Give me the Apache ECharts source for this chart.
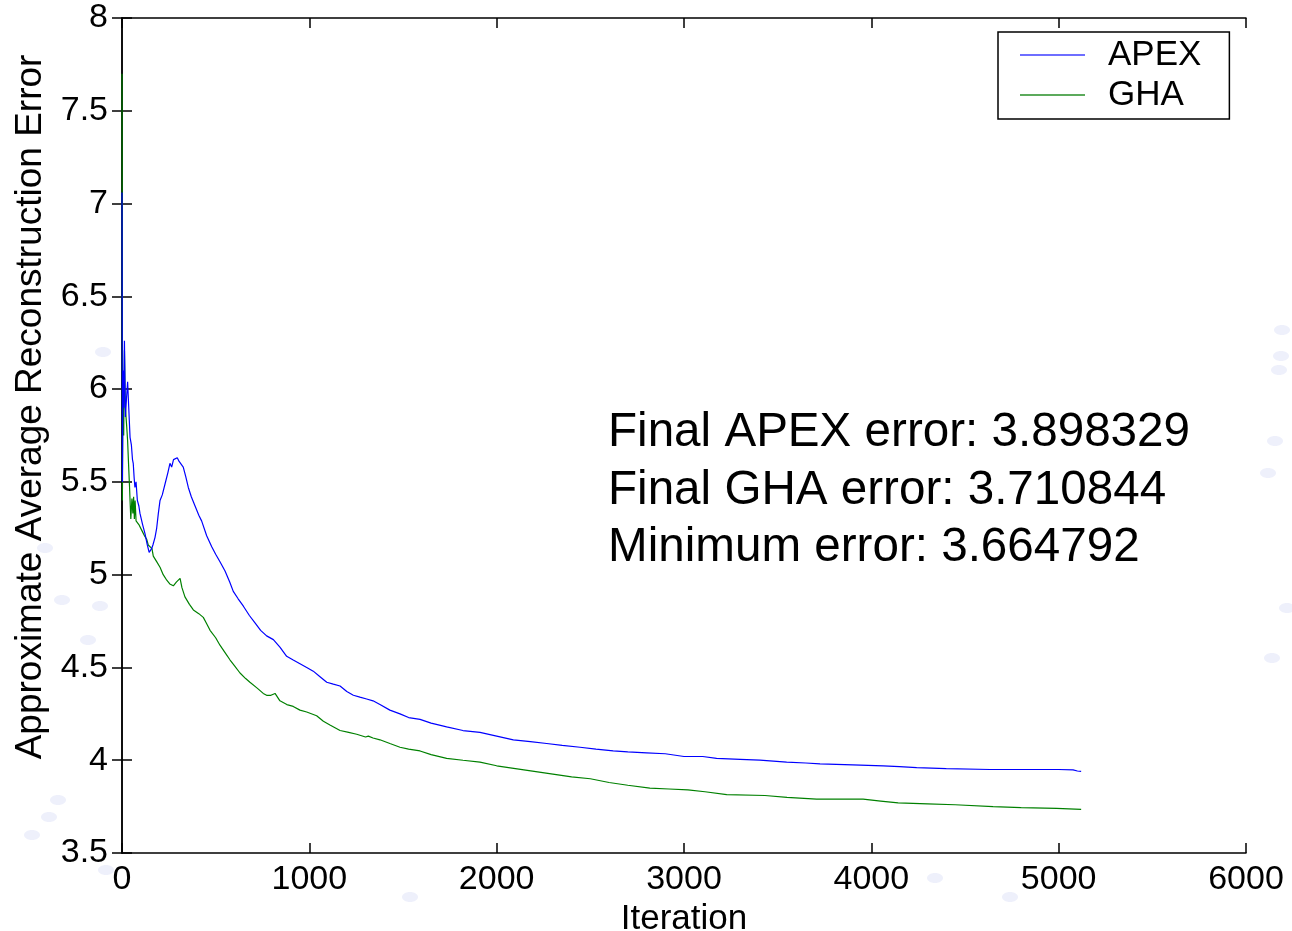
<!DOCTYPE html>
<html>
<head>
<meta charset="utf-8">
<script src="https://cdn.jsdelivr.net/npm/echarts@6/dist/echarts.min.js"></script>
<style>
html,body{margin:0;padding:0;background:#fff;}
#chart{width:1292px;height:931px;}
</style>
</head>
<body>
<div id="chart"></div>
<script>
// ---- data ----
const seriesNames = ['APEX', 'GHA'];
const xTicks = [0, 1000, 2000, 3000, 4000, 5000, 6000];
const yTicks = [3.5, 4, 4.5, 5, 5.5, 6, 6.5, 7, 7.5, 8];

const apexIter = [0,2,5,9,13,18,24,30,36,43,50,56,60,65,69,75,82,90,96,110,123,135,140,145,150,158,165,176,185,194,203,215,230,245,256,265,275,283,295,305,315,327,340,354,370,390,410,425,452,479,500,523,550,575,594,620,648,680,710,740,772,808,843,879,914,950,986,1021,1057,1093,1128,1164,1200,1235,1270,1306,1340,1377,1430,1484,1530,1591,1650,1733,1820,1911,2000,2089,2180,2267,2350,2445,2530,2622,2700,2800,2900,3000,3100,3174,3300,3405,3548,3650,3726,3900,4063,4150,4242,4400,4633,4800,5000,5077,5100,5120];
const apexVal = [7.06,5.50,6.10,5.90,6.26,5.85,5.95,6.04,5.90,5.74,5.70,5.62,5.60,5.52,5.47,5.50,5.40,5.37,5.33,5.27,5.22,5.16,5.15,5.12,5.13,5.14,5.16,5.20,5.25,5.33,5.40,5.43,5.49,5.55,5.60,5.58,5.62,5.61,5.63,5.61,5.62,5.58,5.53,5.47,5.42,5.37,5.32,5.29,5.21,5.15,5.11,5.07,5.02,4.96,4.91,4.87,4.83,4.78,4.74,4.70,4.67,4.65,4.61,4.56,4.54,4.52,4.50,4.48,4.45,4.42,4.41,4.40,4.37,4.35,4.34,4.33,4.32,4.30,4.27,4.25,4.23,4.22,4.20,4.18,4.16,4.15,4.13,4.11,4.10,4.09,4.08,4.07,4.06,4.05,4.045,4.04,4.035,4.02,4.02,4.01,4.005,4.00,3.99,3.985,3.98,3.975,3.97,3.965,3.96,3.955,3.95,3.95,3.95,3.948,3.942,3.94];

const ghaIter = [0,2,5,9,13,18,25,30,34,40,43,47,50,53,58,62,66,70,75,78,90,96,105,120,132,140,150,160,167,185,203,220,239,255,274,290,310,320,336,360,381,410,434,450,470,500,523,550,577,600,630,660,683,720,754,772,795,817,843,880,914,950,986,1039,1075,1110,1164,1210,1253,1300,1315,1340,1377,1430,1484,1530,1591,1650,1733,1820,1911,2000,2100,2200,2300,2400,2500,2600,2700,2818,2920,3021,3112,3228,3432,3550,3708,3956,4050,4143,4300,4447,4650,4800,4989,5120];
const ghaVal = [7.70,5.40,5.95,5.75,6.21,5.90,5.80,5.72,5.62,5.48,5.40,5.30,5.29,5.41,5.33,5.42,5.30,5.40,5.29,5.30,5.27,5.28,5.24,5.21,5.19,5.16,5.15,5.14,5.10,5.07,5.04,5.00,4.97,4.95,4.94,4.96,4.98,4.93,4.88,4.84,4.81,4.79,4.77,4.74,4.70,4.66,4.62,4.58,4.54,4.51,4.47,4.44,4.42,4.39,4.36,4.35,4.35,4.36,4.32,4.30,4.29,4.27,4.26,4.24,4.21,4.19,4.16,4.15,4.14,4.125,4.13,4.12,4.11,4.09,4.07,4.06,4.05,4.03,4.01,4.00,3.99,3.97,3.955,3.94,3.925,3.91,3.90,3.88,3.865,3.85,3.845,3.84,3.83,3.815,3.81,3.80,3.79,3.79,3.78,3.77,3.765,3.76,3.75,3.745,3.74,3.735];

const annotations = ['Final APEX error: 3.898329', 'Final GHA error: 3.710844', 'Minimum error: 3.664792'];
const xAxisName = 'Iteration';
const yAxisName = 'Approximate Average Reconstruction Error';

// ---- chart ----
const FONT = '"Liberation Sans", Arial, sans-serif';
const pairs = (xs, ys) => xs.map((x, i) => [x, ys[i]]);

const chart = echarts.init(document.getElementById('chart'), null, {renderer: 'canvas'});

const axisCommon = {
  type: 'value',
  axisLine: {show: true, lineStyle: {color: '#000', width: 1.5}},
  axisTick: {show: true, inside: true, length: 10, lineStyle: {color: '#000', width: 1.5}},
  splitLine: {show: false}
};

const bgDots = [[1282,330],[1281,356],[1275,441],[1268,473],[1287,608],[1272,658],[103,352],[45,548],[62,600],[88,640],[100,606],[32,835],[58,800],[1279,370],[410,897],[935,878],[1010,897],[106,870],[49,817]];

const option = {
  backgroundColor: '#ffffff',
  animation: false,
  grid: {left: 122, top: 18, right: 46, bottom: 78, containLabel: false, outerBoundsMode: 'none'},
  legend: {
    show: true,
    left: 998, top: 32,
    orient: 'vertical',
    backgroundColor: '#fff',
    borderColor: '#000',
    borderWidth: 1.5,
    borderRadius: 0,
    padding: [3, 28, 4, 22],
    itemGap: 0,
    itemWidth: 65,
    itemHeight: 2,
    icon: 'rect',
    textStyle: {fontFamily: FONT, fontSize: 35, color: '#000', lineHeight: 40, padding: [0, 0, 0, 18]},
    data: [
      {name: seriesNames[0], itemStyle: {color: '#6e6eff'}},
      {name: seriesNames[1], itemStyle: {color: '#5caa5c'}}
    ]
  },
  xAxis: [
    Object.assign({}, axisCommon, {
      position: 'bottom', min: xTicks[0], max: xTicks[xTicks.length - 1], interval: 1000,
      name: xAxisName, nameLocation: 'middle', nameGap: 44,
      nameTextStyle: {fontFamily: FONT, fontSize: 35, color: '#000'},
      axisLabel: {show: true, margin: 10, fontFamily: FONT, fontSize: 34, color: '#000', formatter: v => String(v)}
    }),
    Object.assign({}, axisCommon, {
      position: 'top', min: xTicks[0], max: xTicks[xTicks.length - 1], interval: 1000,
      axisLabel: {show: false}
    })
  ],
  yAxis: [
    Object.assign({}, axisCommon, {
      position: 'left', min: yTicks[0], max: yTicks[yTicks.length - 1], interval: 0.5,
      axisLabel: {show: true, margin: 14, fontFamily: FONT, fontSize: 34, color: '#000', formatter: v => String(v)}
    }),
    Object.assign({}, axisCommon, {
      position: 'right', min: yTicks[0], max: yTicks[yTicks.length - 1], interval: 0.5,
      axisLabel: {show: false}
    })
  ],
  series: [
    {
      name: seriesNames[0], type: 'line', xAxisIndex: 0, yAxisIndex: 0,
      data: pairs(apexIter, apexVal),
      showSymbol: false, symbol: 'none', smooth: false,
      lineStyle: {color: '#0000ff', width: 1.2},
      itemStyle: {color: '#0000ff'},
      z: 3
    },
    {
      name: seriesNames[1], type: 'line', xAxisIndex: 0, yAxisIndex: 0,
      data: pairs(ghaIter, ghaVal),
      showSymbol: false, symbol: 'none', smooth: false,
      lineStyle: {color: '#008000', width: 1.2},
      itemStyle: {color: '#008000'},
      z: 2
    }
  ],
  graphic: [
    ...bgDots.map(p => ({
      type: 'ellipse', silent: true, z: -10,
      shape: {cx: p[0], cy: p[1], rx: 8, ry: 5},
      style: {fill: '#eef0fb'}
    })),
    {
      type: 'text', silent: true, z: 10,
      x: 31, y: 407, rotation: Math.PI / 2,
      style: {text: yAxisName, fontFamily: FONT, fontSize: 37, fill: '#000', textAlign: 'center', textVerticalAlign: 'middle'}
    },
    ...annotations.map((t, i) => ({
      type: 'text', silent: true, z: 10,
      x: 608, y: 433 + i * 57.5,
      style: {text: t, fontFamily: FONT, fontSize: 47.6, fill: '#000', textAlign: 'left', textVerticalAlign: 'middle'}
    }))
  ]
};

chart.setOption(option);
</script>
</body>
</html>
